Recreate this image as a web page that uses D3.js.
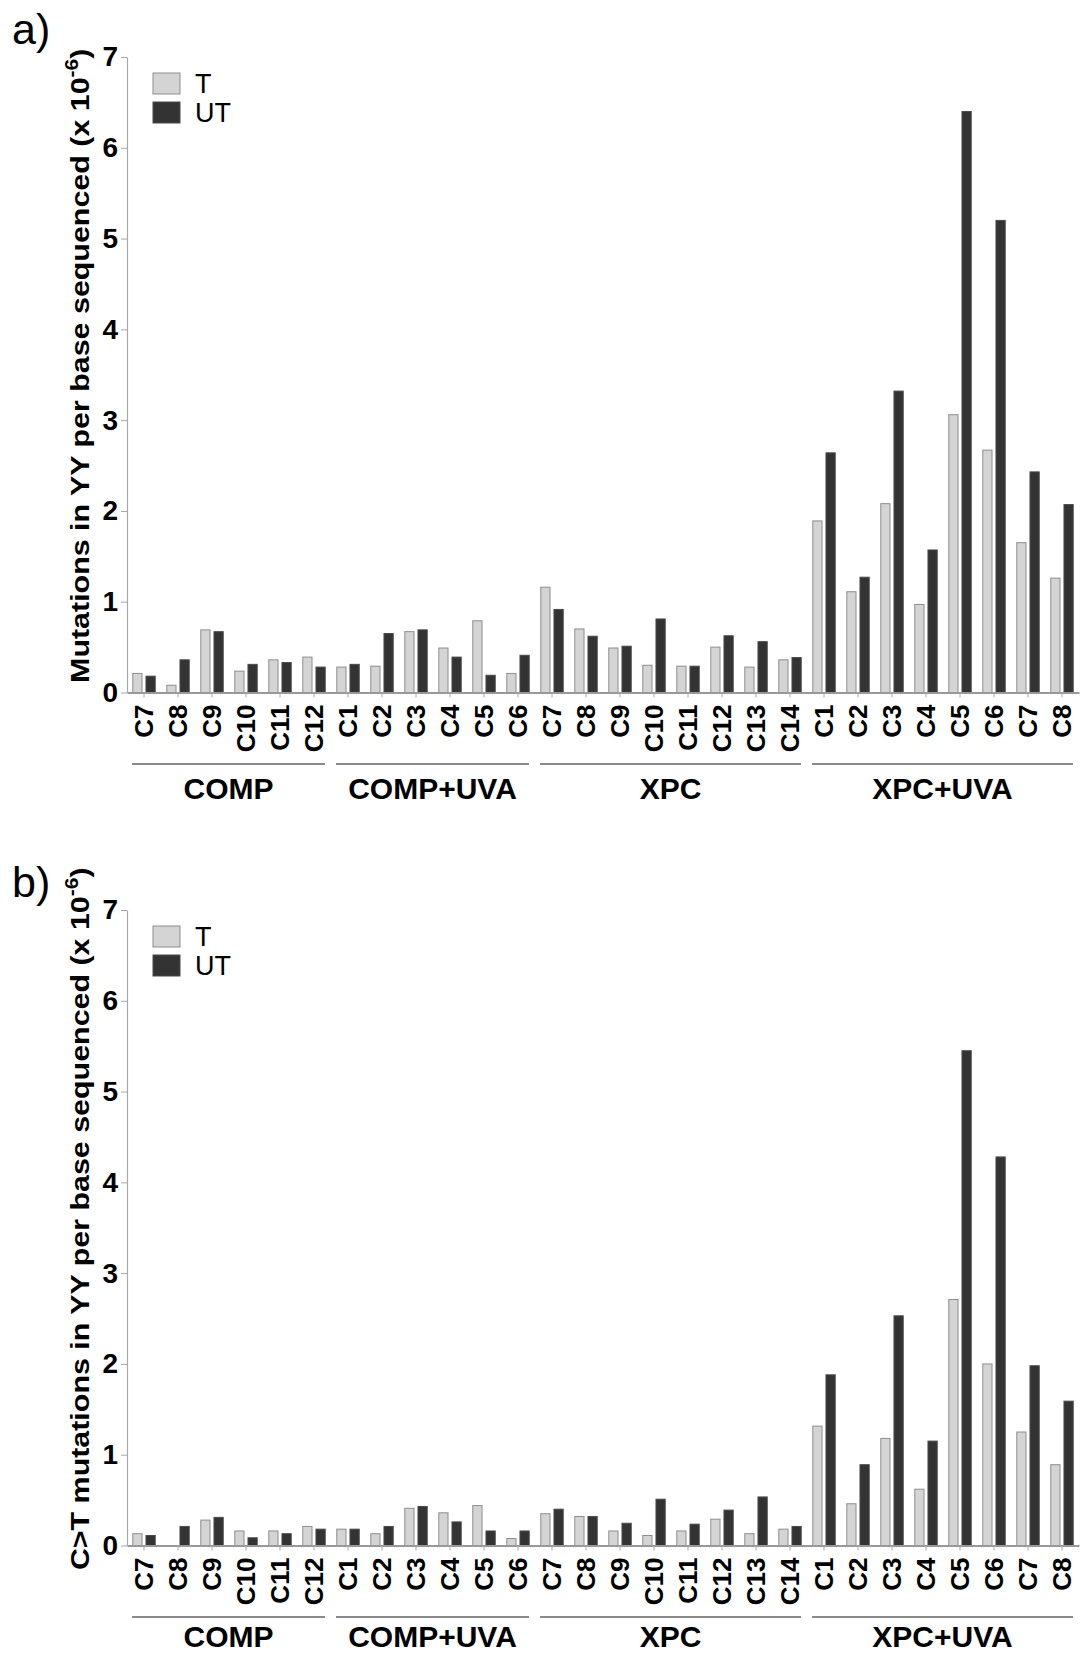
<!DOCTYPE html>
<html>
<head>
<meta charset="utf-8">
<script src="https://cdn.jsdelivr.net/npm/d3@7"></script>
<style>
  body { margin: 0; background: #fff; }
  svg { font-family: "Liberation Sans", Arial, sans-serif; }
</style>
</head>
<body>
<svg id="chart" width="1081" height="1656"></svg>
<script>
// groups and clones along the x axis
const groups = ["COMP", "COMP+UVA", "XPC", "XPC+UVA"];
const compClones = ["C7", "C8", "C9", "C10", "C11", "C12"];
const compUvaClones = ["C1", "C2", "C3", "C4", "C5", "C6"];
const xpcClones = ["C7", "C8", "C9", "C10", "C11", "C12", "C13", "C14"];
const xpcUvaClones = ["C1", "C2", "C3", "C4", "C5", "C6", "C7", "C8"];
const series = ["T", "UT"];
const yTicks = [0, 1, 2, 3, 4, 5, 6, 7];

// panel a) all mutations in YY
const allT = [0.21, 0.08, 0.69, 0.235, 0.36, 0.39,
  0.28, 0.29, 0.67, 0.49, 0.79, 0.21,
  1.16, 0.70, 0.49, 0.30, 0.29, 0.50, 0.28, 0.36,
  1.89, 1.11, 2.08, 0.97, 3.06, 2.67, 1.65, 1.26];
const allUT = [0.18, 0.36, 0.67, 0.31, 0.33, 0.28,
  0.31, 0.65, 0.69, 0.39, 0.19, 0.41,
  0.915, 0.62, 0.51, 0.81, 0.29, 0.625, 0.56, 0.385,
  2.64, 1.27, 3.32, 1.57, 6.40, 5.20, 2.43, 2.07];

// panel b) C>T mutations in YY
const ctT = [0.13, 0, 0.28, 0.16, 0.16, 0.21,
  0.18, 0.13, 0.41, 0.36, 0.44, 0.077,
  0.35, 0.32, 0.16, 0.11, 0.16, 0.29, 0.13, 0.18,
  1.315, 0.46, 1.18, 0.62, 2.71, 2.00, 1.25, 0.89];
const ctUT = [0.11, 0.21, 0.31, 0.085, 0.13, 0.18,
  0.18, 0.21, 0.43, 0.26, 0.16, 0.16,
  0.40, 0.32, 0.245, 0.51, 0.235, 0.39, 0.535, 0.21,
  1.88, 0.89, 2.53, 1.15, 5.45, 4.28, 1.98, 1.59];

const cloneLists = [compClones, compUvaClones, xpcClones, xpcUvaClones];

// flat category list, key = group|clone
const cats = [];
groups.forEach((g, i) => cloneLists[i].forEach(c => cats.push({ group: g, clone: c, key: g + "|" + c })));

const colors = { T: "#d4d4d4", UT: "#333333" };
const strokes = { T: "#8e8e8e", UT: "#4a4a4a" };

const svg = d3.select("#chart");

const marginLeft = 127;
const step = 34;

const x0 = d3.scaleBand()
  .domain(cats.map(d => d.key))
  .range([marginLeft, marginLeft + cats.length * step])
  .paddingInner(0.34)
  .paddingOuter(0.17);

const x1 = d3.scaleBand()
  .domain(series)
  .range([0, x0.bandwidth()])
  .paddingInner(0.3);

function drawPanel(top, letter, tValues, utValues, labelPrefix, groupBase) {
  const yTop = top + 57;
  const yBottom = top + 692.5;
  const y = d3.scaleLinear().domain([0, 7]).range([yBottom, yTop]);
  const g = svg.append("g");

  // panel letter
  g.append("text")
    .attr("x", 12)
    .attr("y", top + 44)
    .attr("font-size", 43)
    .text(letter + ")");

  // y axis
  g.append("g")
    .attr("transform", `translate(${marginLeft},0)`)
    .call(d3.axisLeft(y).tickValues(yTicks).tickFormat(d3.format("d"))
      .tickSize(6).tickSizeOuter(0).tickPadding(3))
    .call(a => a.select(".domain").attr("stroke", "#a8a8a8").attr("stroke-width", 1.2))
    .call(a => a.selectAll(".tick line").attr("stroke", "#a8a8a8"))
    .call(a => a.selectAll(".tick text")
      .attr("font-size", 28).attr("font-weight", "bold").attr("fill", "#000")
      .attr("font-family", "Liberation Sans, Arial, sans-serif"));

  // y label
  const yl = g.append("text")
    .attr("transform", `translate(89,${(yTop + yBottom) / 2 - 9}) rotate(-90) scale(1.17,1)`)
    .attr("text-anchor", "middle")
    .attr("font-size", 26)
    .attr("font-weight", "bold");
  yl.append("tspan").text(labelPrefix + " in YY per base sequenced (x 10");
  yl.append("tspan").attr("font-size", 18).attr("dy", -11).text("-6");
  yl.append("tspan").attr("dy", 11).text(")");

  // bars
  const rows = cats.map((c, i) => ({ key: c.key, T: tValues[i], UT: utValues[i] }));
  g.append("g")
    .selectAll("g")
    .data(rows)
    .join("g")
      .attr("transform", d => `translate(${x0(d.key)},0)`)
    .selectAll("rect")
    .data(d => series.map(s => ({ s, v: d[s] })).filter(d => d.v > 0))
    .join("rect")
      .attr("x", d => x1(d.s))
      .attr("y", d => y(d.v))
      .attr("width", x1.bandwidth())
      .attr("height", d => y(0) - y(d.v))
      .attr("fill", d => colors[d.s])
      .attr("stroke", d => strokes[d.s])
      .attr("stroke-width", 1);

  // x axis
  g.append("g")
    .attr("transform", `translate(0,${yBottom})`)
    .call(d3.axisBottom(x0).tickSize(5).tickSizeOuter(0).tickFormat(k => k.split("|")[1]))
    .call(a => a.select(".domain").attr("stroke", "#999").attr("stroke-width", 2))
    .call(a => a.selectAll(".tick line").attr("stroke", "#aaa"))
    .call(a => a.selectAll(".tick text")
      .attr("font-size", 26).attr("font-weight", "bold").attr("fill", "#000")
      .attr("font-family", "Liberation Sans, Arial, sans-serif")
      .attr("text-anchor", "end")
      .attr("transform", "rotate(-90)")
      .attr("x", -12).attr("y", 0).attr("dy", "0.36em"));

  // group brackets + names
  groups.forEach(gr => {
    const keys = cats.filter(c => c.group === gr).map(c => c.key);
    const x1g = x0(keys[0]) - x0.step() * x0.paddingOuter() + 5;
    const x2g = x0(keys[keys.length - 1]) + x0.bandwidth() + x0.step() * x0.paddingOuter() - 6;
    g.append("line")
      .attr("x1", x1g).attr("x2", x2g)
      .attr("y1", top + 764).attr("y2", top + 764)
      .attr("stroke", "#8a8a8a").attr("stroke-width", 2);
    g.append("text")
      .attr("x", (x1g + x2g) / 2)
      .attr("y", top + groupBase)
      .attr("text-anchor", "middle")
      .attr("font-size", 30)
      .attr("font-weight", "bold")
      .text(gr);
  });

  // legend
  const leg = g.append("g").attr("transform", `translate(153,${yTop + 16})`);
  series.forEach((s, i) => {
    leg.append("rect")
      .attr("x", 0).attr("y", i * 29)
      .attr("width", 27).attr("height", 21)
      .attr("fill", colors[s]).attr("stroke", strokes[s]).attr("stroke-width", 1);
    leg.append("text")
      .attr("x", 42).attr("y", i * 29 + 20)
      .attr("font-size", 27)
      .text(s);
  });
}

drawPanel(0, "a", allT, allUT, "Mutations", 799);
drawPanel(853, "b", ctT, ctUT, "C>T mutations", 794);
</script>
</body>
</html>
